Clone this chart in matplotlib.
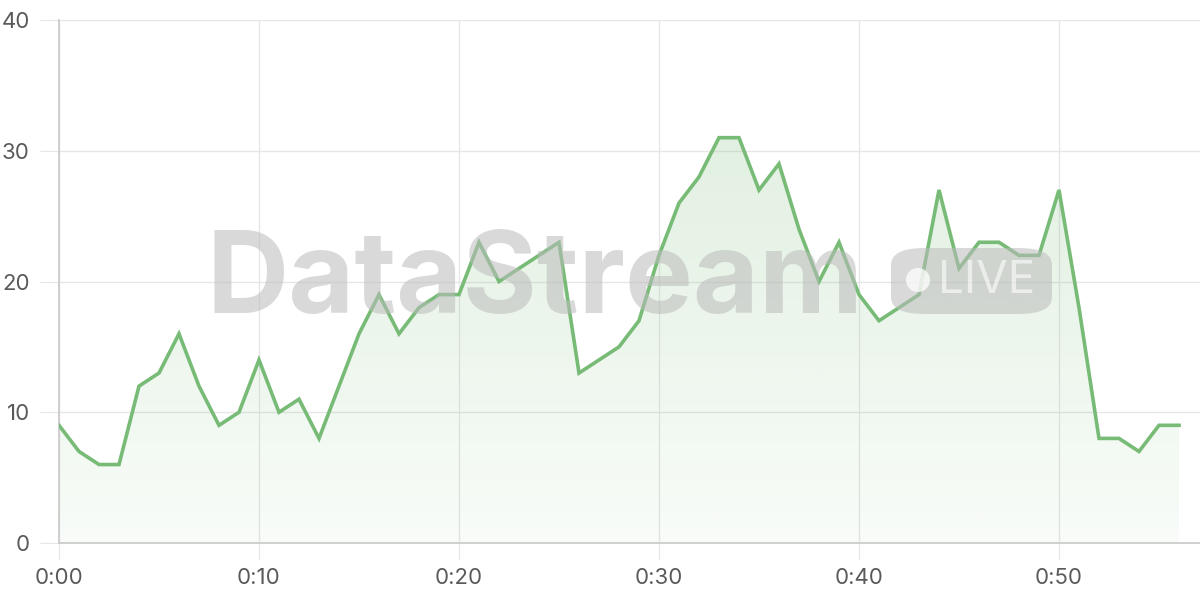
import matplotlib
matplotlib.use("Agg")
import matplotlib.pyplot as plt
import numpy as np
from matplotlib.patches import FancyBboxPatch, Ellipse

# minutes since start and the value at each minute
minutes = list(range(57))
values = [9, 7, 6, 6, 12, 13, 16, 12, 9, 10,
          14, 10, 11, 8, 12, 16, 19, 16, 18, 19,
          19, 23, 20, 21, 22, 23, 13, 14, 15, 17,
          22, 26, 28, 31, 31, 27, 29, 24, 20, 23,
          19, 17, 18, 19, 27, 21, 23, 23, 22, 22,
          27, 18, 8, 8, 7, 9, 9]
x_ticks = [0, 10, 20, 30, 40, 50]
x_tick_labels = ['0:00', '0:10', '0:20', '0:30', '0:40', '0:50']
y_ticks = [0, 10, 20, 30, 40]

line_color = '#77bb77'
font = ['Inter', 'DejaVu Sans']

fig = plt.figure(figsize=(12, 6), dpi=100)
ax = fig.add_axes([59 / 1200, 1 - 543 / 600, 1 - 59 / 1200, (543 - 20) / 600])
ax.patch.set_alpha(0)

# watermark
fig.text(207 / 1200, 1 - 313 / 600, 'DataStream', fontsize=82, fontweight='bold',
         color='#bbbbbb', alpha=0.55, family=font, va='baseline', ha='left', zorder=0)
pill = FancyBboxPatch((891 / 1200, 1 - 314 / 600), 161 / 1200, 66 / 600,
                      boxstyle='round,pad=0,rounding_size=0.028',
                      transform=fig.transFigure, facecolor='#bbbbbb', alpha=0.55,
                      edgecolor='none', zorder=0)
fig.patches.append(pill)
dot = Ellipse((918 / 1200, 1 - 280 / 600), 24 / 1200, 24 / 600, transform=fig.transFigure,
              facecolor='white', alpha=0.75, edgecolor='none', zorder=0)
fig.patches.append(dot)
fig.text(987 / 1200, 1 - 281 / 600, 'LIVE', fontsize=33, color='white', alpha=0.6,
         family=font, ha='center', va='center', zorder=0)

# gradient fill under the line
poly = ax.fill_between(minutes, values, 0, color='none')
grad = np.linspace(0.22, 0.05, 256).reshape(-1, 1)
rgba = np.zeros((256, 1, 4))
rgba[..., 0] = 0x77 / 255
rgba[..., 1] = 0xbb / 255
rgba[..., 2] = 0x77 / 255
rgba[..., 3] = grad
img = ax.imshow(rgba, extent=[0, 56, 0, 32], aspect='auto', origin='upper', zorder=1)
img.set_clip_path(poly.get_paths()[0], transform=ax.transData)
ax.set_xlim(0, 57.05)
ax.set_ylim(0, 40)

ax.plot(minutes, values, color=line_color, linewidth=2.6, zorder=3,
        solid_joinstyle='miter')

ax.set_xticks(x_ticks)
ax.set_xticklabels(x_tick_labels)
ax.set_yticks(y_ticks)
ax.grid(True, color='#e6e6e6', linewidth=1)
ax.set_axisbelow(True)
for s in ['top', 'right']:
    ax.spines[s].set_visible(False)
for s in ['left', 'bottom']:
    ax.spines[s].set_color('#cccccc')
    ax.spines[s].set_linewidth(1.3)
ax.tick_params(axis='both', length=12, color='#e6e6e6', labelcolor='#5a5a5a',
               labelsize=16)
ax.tick_params(axis='x', pad=6)
ax.tick_params(axis='y', pad=7, length=14)
for lab in ax.get_xticklabels() + ax.get_yticklabels():
    lab.set_family(font)

fig.savefig('out.png', dpi=100)
